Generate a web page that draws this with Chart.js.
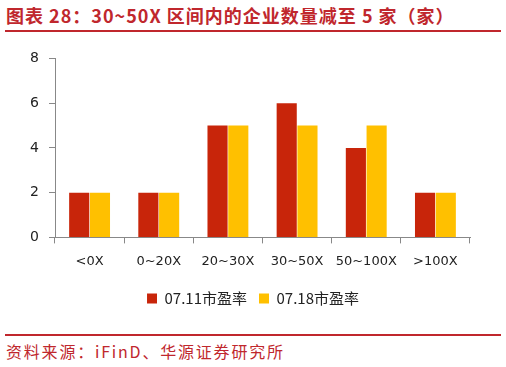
<!DOCTYPE html>
<html>
<head>
<meta charset="utf-8">
<script src="https://cdn.jsdelivr.net/npm/chart.js@4"></script>
<style>
  body { margin: 0; width: 506px; height: 367px; background: #fff; position: relative; overflow: hidden; }
  #title { position: absolute; left: 6px; top: 2px; font: 600 18px "Noto Sans CJK SC", sans-serif; color: #c0272d; letter-spacing: 1px; }
  .rule { position: absolute; left: 5px; width: 496px; height: 2px; background: #c0272d; }
  #source { position: absolute; left: 6px; top: 339px; font: 16px "Noto Sans CJK SC", sans-serif; color: #c0272d; letter-spacing: 1.8px; }
  #wrap { position: absolute; left: 0; top: 40px; width: 506px; height: 276px; }
</style>
</head>
<body>
<div id="title">图表 28：30~50X 区间内的企业数量减至 5 家（家）</div>
<div class="rule" style="top:30px"></div>
<div id="wrap"><canvas id="chart"></canvas></div>
<div class="rule" style="top:334px"></div>
<div id="source">资料来源：iFinD、华源证券研究所</div>
<script>
// 市盈率区间分布（家数）
var categories = ['<0X', '0~20X', '20~30X', '30~50X', '50~100X', '>100X'];
var labels711 = '07.11市盈率';
var labels718 = '07.18市盈率';
var count711 = [2, 2, 5, 6, 4, 2];
var count718 = [2, 2, 5, 5, 5, 2];

const ctx = document.getElementById('chart');
new Chart(ctx, {
    type: 'bar',
    data: {
        labels: categories,
        datasets: [{
            label: labels711,
            data: count711,
            backgroundColor: '#c8250a'
        }, {
            label: labels718,
            data: count718,
            backgroundColor: '#ffc000'
        }]
    },
    options: {
        responsive: true,
        maintainAspectRatio: false,
        animation: false,
        layout: { padding: { top: 12, right: 0, left: 0, bottom: 0 } },
        plugins: {
            tooltip: { enabled: false },
            legend: {
                position: 'bottom',
                labels: {
                    boxWidth: 10,
                    boxHeight: 10,
                    padding: 12,
                    color: '#222',
                    font: { family: '"Noto Sans CJK SC", sans-serif', size: 15 }
                }
            }
        },
        datasets: {
            bar: { categoryPercentage: 0.6, barPercentage: 0.97 }
        },
        scales: {
            x: {
                grid: { drawOnChartArea: false, tickLength: 6, color: '#888' },
                border: { color: '#888' },
                ticks: { color: '#222', padding: 10, font: { family: '"DejaVu Sans", sans-serif', size: 13 } }
            },
            y: {
                min: 0,
                max: 8,
                afterFit: function (axis) { axis.width = 55; },
                grid: { drawOnChartArea: false, tickLength: 6, color: '#888' },
                border: { color: '#888' },
                ticks: { stepSize: 2, color: '#222', padding: 10, font: { family: '"DejaVu Sans", sans-serif', size: 14 } }
            },
            // empty right-hand spacer so the legend stays centred on the page
            yRight: {
                position: 'right',
                afterFit: function (axis) { axis.width = 36; },
                grid: { display: false },
                border: { display: false },
                ticks: { display: false }
            }
        }
    }
});
</script>
</body>
</html>
